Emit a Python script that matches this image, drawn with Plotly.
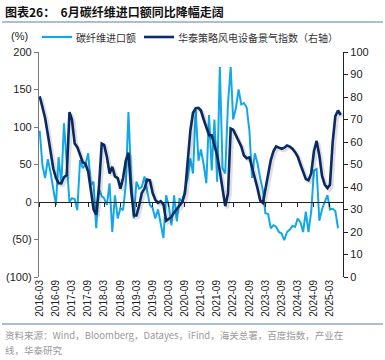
import pandas as pd
import plotly.graph_objects as go

# ---- data ----
start_month = "2016-03-01"
carbon_fiber_import_yoy = [
    95, 49, 32, 57, 40, 20, -4, 60, 23, 105,
    45, 0, 5, 4, -11, 56, 45, 50, 65, 23,
    27, -35, 18, 8, 5, -4, 25, -40, 9, -22,
    -8, -11, 23, 120, 32, -22, 27, 18, 20, 34,
    15, -4, -8, -22, -10, -31, -48, 9, -5, -31,
    9, -26, 5, 0, 18, 32, 58, 38, 123, 55,
    70, 50, 25, 116, 42, 110, 27, 180, 45, 38,
    130, 180, 110, 125, 150, 130, 132, 126, 95, 32,
    65, 52, 32, 15, -15, -16, -35, -31, -33, -40,
    -42, -51, -40, -37, -32, -33, -22, -27, -40, -13,
    -40, -13, 42, 44, -25, -10, 0, 9, -10, -9,
    -12, -35,
]
wind_equipment_index = [
    80.3, 76, 70.7, 63.3, 55, 48.3, 44, 41.7, 41.7, 44.3,
    45.3, 73.3, 70, 59.3, 57.7, 54, 51, 50.3, 46.7, 38.7,
    30, 27.7, 40, 59.3, 58.7, 53.3, 46, 49, 44.7, 44,
    39.3, 44, 51.7, 55.3, 38.3, 27.3, 27.3, 31.7, 37.3, 39.3,
    43.3, 43, 37.3, 34.3, 33, 33.7, 32.3, 25, 26, 26.7,
    28.7, 30.3, 31.7, 33.3, 37.3, 50, 65, 73, 75, 75.2,
    74, 70, 66.5, 63, 63, 58.5, 54, 47, 38, 31.5,
    37, 66, 65.5, 63, 60.5, 58, 54, 52.8, 53.2, 48,
    44, 39.5, 34, 33, 39, 46, 52, 56, 58, 57.5,
    57, 57.5, 58.5, 58, 57, 55.5, 53.5, 50, 46.5, 43.5,
    43, 46, 56, 60.5, 54, 45, 41, 39.5, 41, 60,
    71.5, 74, 72,
]
left_tick_vals = [-100, -50, 0, 50, 100, 150, 200]
left_tick_text = ["(100)", "(50)", "0", "50", "100", "150", "200"]
x_tick_dates = pd.date_range("2016-03-01", "2025-03-01", freq="6MS")

name_light = "碳纤维进口额"
name_dark = "华泰策略风电设备景气指数（右轴）"
title_text = "图表26：  6月碳纤维进口额同比降幅走阔"
source_line1 = "资料来源：Wind，Bloomberg，Datayes，iFind，海关总署，百度指数，产业在"
source_line2 = "线，华泰研究"

months_light = pd.date_range(start_month, periods=len(carbon_fiber_import_yoy), freq="MS")
months_dark = pd.date_range(start_month, periods=len(wind_equipment_index), freq="MS")

LIGHT = "#12A8E8"
DARK = "#0B2D6B"
FONT = "Arial, Liberation Sans, Noto Sans CJK SC, sans-serif"
CJK = "Noto Sans CJK SC, sans-serif"

W, H = 385, 360
ml, mr, mt, mb = 39, 42, 52, 83
pw, ph = W - ml - mr, H - mt - mb

def px2paper_x(px):
    return (px - ml) / pw

def px2paper_y(py):
    return (H - mb - py) / ph

xr = ["2016-02-22", "2025-07-27"]
# shadow axes: same scale, shifted ~2px right and ~2px down
xr_shadow = ["2016-01-31", "2025-07-05"]
yr_shadow = [0.9, 100.9]

fig = go.Figure()
fig.add_trace(go.Scatter(
    x=months_dark, y=wind_equipment_index, name="shadow", showlegend=False,
    mode="lines", line=dict(color="rgba(0,0,0,0.13)", width=3.4), xaxis="x3", yaxis="y3",
    hoverinfo="skip",
))
fig.add_trace(go.Scatter(
    x=months_light, y=carbon_fiber_import_yoy, name=name_light,
    mode="lines", line=dict(color=LIGHT, width=2), xaxis="x", yaxis="y",
))
fig.add_trace(go.Scatter(
    x=months_dark, y=wind_equipment_index, name=name_dark,
    mode="lines", line=dict(color=DARK, width=2.6), xaxis="x2", yaxis="y2",
))

fig.update_layout(
    width=W, height=H,
    margin=dict(l=ml, r=mr, t=mt, b=mb, autoexpand=False),
    paper_bgcolor="white", plot_bgcolor="white",
    font=dict(family=FONT, size=11, color="#222"),
    showlegend=False,
    xaxis=dict(
        type="date", range=xr, tickvals=list(x_tick_dates), tickformat="%Y-%m",
        tickangle=-90, ticks="", showline=False, showgrid=False, zeroline=False,
        tickfont=dict(size=10, color="#222"), automargin=False,
    ),
    xaxis2=dict(
        type="date", range=xr, matches="x", overlaying="x", anchor="free", position=1/3,
        tickvals=list(x_tick_dates), ticks="outside", ticklen=4, tickcolor="#222",
        showticklabels=False, showline=True, linecolor="#222", linewidth=1,
        showgrid=False, zeroline=False, automargin=False,
    ),
    xaxis3=dict(type="date", range=xr_shadow, overlaying="x", anchor="y3", visible=False),
    yaxis3=dict(range=yr_shadow, overlaying="y", anchor="x3", visible=False),
    yaxis=dict(
        range=[-100, 200], tickvals=left_tick_vals, ticktext=left_tick_text,
        showline=True, linecolor="#777", linewidth=1.2, ticks="outside", ticklen=4,
        tickcolor="#777", showgrid=False, zeroline=False,
        tickfont=dict(size=11, color="#222"), automargin=False,
    ),
    yaxis2=dict(
        range=[0, 100], dtick=10, overlaying="y", side="right", anchor="x",
        showline=True, linecolor="#222", linewidth=1.2, ticks="outside", ticklen=4,
        tickcolor="#222", showgrid=False, zeroline=False,
        tickfont=dict(size=11, color="#222"), automargin=False,
    ),
)

def ann(text, px, py, font, anchor="left"):
    return dict(text=text, xref="paper", yref="paper", x=px2paper_x(px), y=px2paper_y(py),
                xanchor=anchor, yanchor="middle", showarrow=False, font=font)

annotations = [
    ann(f"<b>{title_text}</b>", 3, 12, dict(family=CJK, size=12, color="#111")),
    ann("(%)", 9, 36, dict(family=FONT, size=11, color="#222")),
    ann(name_light, 74, 37, dict(family=CJK, size=10, color="#333")),
    ann(name_dark, 176, 37, dict(family=CJK, size=10, color="#333")),
    ann(source_line1, 3, 335, dict(family=CJK, size=9.5, color="#9a9a9a")),
    ann(source_line2, 3, 350, dict(family=CJK, size=9.5, color="#9a9a9a")),
]
fig.update_layout(annotations=annotations)

def hline(x0, x1, y, color, width):
    return dict(type="line", xref="paper", yref="paper", x0=px2paper_x(x0), x1=px2paper_x(x1),
                y0=px2paper_y(y), y1=px2paper_y(y), line=dict(color=color, width=width))

fig.update_layout(shapes=[
    hline(2, 383, 22, "#5B7FAF", 1.2),
    hline(2, 383, 324, "#5B7FAF", 1.2),
    hline(42, 72, 37, LIGHT, 2.2),
    hline(144, 174, 37, DARK, 2.6),
])

fig.write_html(
    "out.html",
    config={"displayModeBar": False},
    post_script="document.body.style.margin='0';document.body.style.padding='0';document.documentElement.style.overflow='hidden';",
)
